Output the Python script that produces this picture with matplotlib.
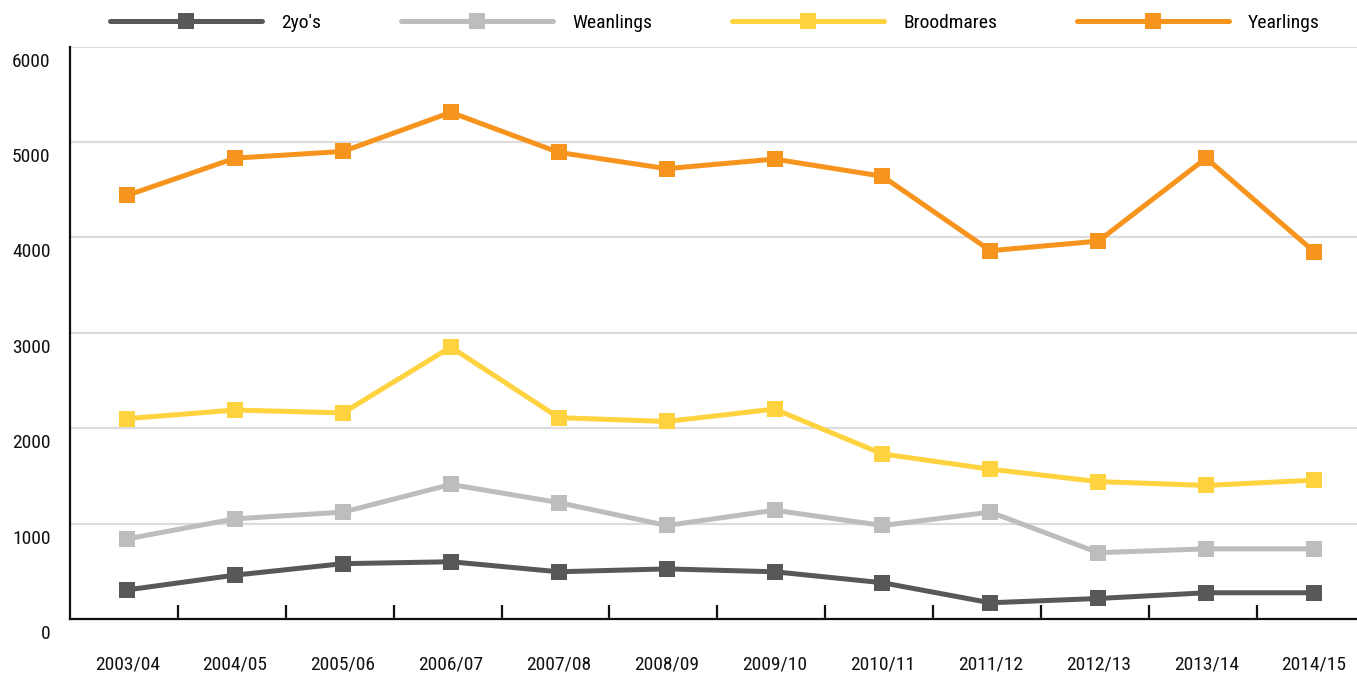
import matplotlib
matplotlib.use("Agg")
import matplotlib.pyplot as plt
import matplotlib.transforms as mtransforms
from matplotlib import font_manager
from matplotlib.lines import Line2D

seasons = ["2003/04", "2004/05", "2005/06", "2006/07", "2007/08", "2008/09",
           "2009/10", "2010/11", "2011/12", "2012/13", "2013/14", "2014/15"]
two_yos = [305, 460, 580, 600, 495, 525, 495, 380, 170, 215, 275, 275]
weanlings = [840, 1050, 1120, 1410, 1220, 980, 1140, 980, 1120, 695, 735, 735]
broodmares = [2100, 2190, 2160, 2850, 2110, 2070, 2200, 1730, 1570, 1440, 1400, 1455]
yearlings = [4440, 4830, 4900, 5310, 4890, 4720, 4820, 4640, 3860, 3960, 4830, 3850]

series_names = ["2yo's", "Weanlings", "Broodmares", "Yearlings"]
series_colors = ["#58585a", "#bdbdbf", "#ffd23f", "#f7941d"]
y_ticks = [0, 1000, 2000, 3000, 4000, 5000, 6000]

# pick a condensed face if there is one
installed = {f.name for f in font_manager.fontManager.ttflist}
font_size = 14
family = "DejaVu Sans"
for name in ["Liberation Sans Narrow", "Roboto Condensed", "Open Sans Condensed"]:
    if name in installed:
        family = name
        break
else:
    if "Liberation Sans" in installed:
        family = "Liberation Sans"
        font_size = 12
plt.rcParams["font.family"] = [family, "DejaVu Sans"]
plt.rcParams["font.size"] = font_size

fig = plt.figure(figsize=(13.57, 6.75), dpi=100)
ax = fig.add_axes([70 / 1357, 56 / 675, 1298 / 1357, 572.5 / 675])

x = list(range(len(seasons)))
all_series = [two_yos, weanlings, broodmares, yearlings]
for values, name, color in zip(all_series, series_names, series_colors):
    ax.plot(x, values, color=color, lw=3.6, marker="s", markersize=11.5,
            markeredgewidth=0, label=name, zorder=3, solid_capstyle="round")

ax.set_xlim(-0.53, 11.5)
ax.set_ylim(0, 6000)
ax.set_yticks(y_ticks)
ax.set_yticklabels([str(v) for v in y_ticks])
ax.set_xticks(x)
ax.set_xticklabels(seasons)
ax.set_xticks([i + 0.47 for i in range(11)], minor=True)

ax.grid(axis="y", color="#dcdcdc", lw=1.6, zorder=0)
ax.set_axisbelow(True)
for side in ["top", "right"]:
    ax.spines[side].set_visible(False)
for side in ["left", "bottom"]:
    ax.spines[side].set_linewidth(1.6)
    ax.spines[side].set_color("#111111")

ax.tick_params(axis="x", which="major", length=0, pad=26, colors="#111111")
ax.tick_params(axis="x", which="minor", direction="in", length=10, width=1.6,
               color="#111111")
ax.tick_params(axis="y", length=0, pad=14, colors="#111111")

# y labels sit a little below their gridlines
offset = mtransforms.ScaledTranslation(0, -0.13, fig.dpi_scale_trans)
for label in ax.yaxis.get_majorticklabels():
    label.set_transform(label.get_transform() + offset)

handles = [Line2D([], [], color=c, lw=3.6, marker="s", markersize=11.5,
                  markeredgewidth=0, solid_capstyle="round")
           for c in series_colors]
fig.legend(handles, series_names, loc="center", ncol=4,
           bbox_to_anchor=(0.527, 1 - 23 / 675), frameon=False,
           handlelength=7.8, handletextpad=1.0, columnspacing=4.1,
           fontsize=font_size)

fig.savefig("out.png", dpi=100)
